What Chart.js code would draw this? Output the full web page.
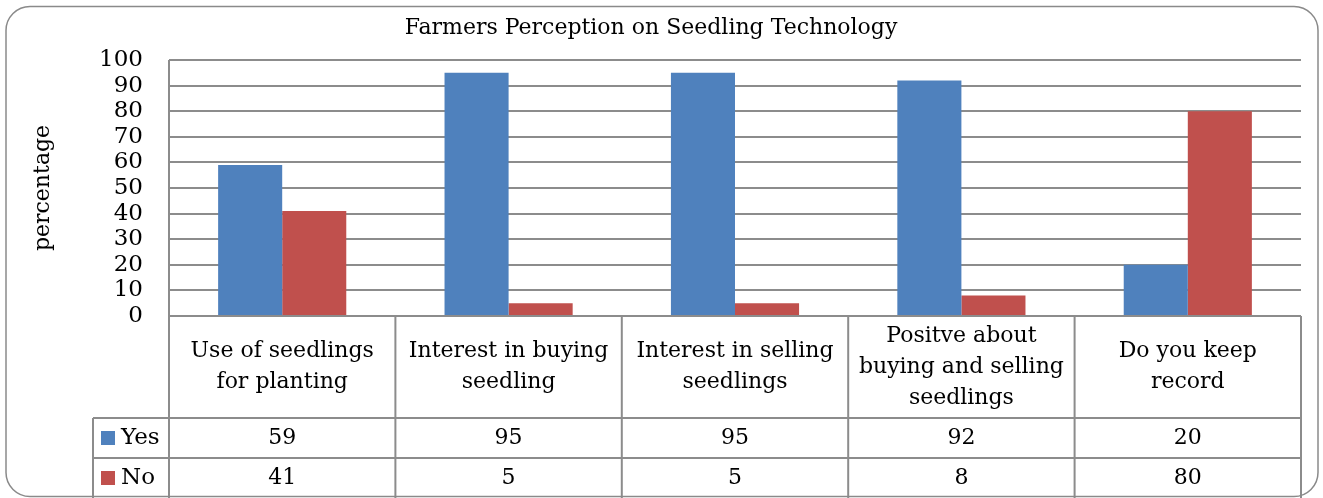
<!DOCTYPE html>
<html>
<head>
<meta charset="utf-8">
<script src="https://cdn.jsdelivr.net/npm/chart.js@4/dist/chart.umd.min.js"></script>
<style>
  html, body { margin: 0; padding: 0; background: #fff; }
  #wrap { width: 1323px; height: 498px; position: relative; }
</style>
</head>
<body>
<div id="wrap"><canvas id="myChart" width="1323" height="498"></canvas></div>
<script>
const categories = [
    ['Use of seedlings', 'for planting'],
    ['Interest in buying', 'seedling'],
    ['Interest in selling', 'seedlings'],
    ['Positve about', 'buying and selling', 'seedlings'],
    ['Do you keep', 'record']
];
const yesValues = [59, 95, 95, 92, 20];
const noValues = [41, 5, 5, 8, 80];
const yTicks = [0, 10, 20, 30, 40, 50, 60, 70, 80, 90, 100];
const chartTitle = 'Farmers Perception on Seedling Technology';
const yTitle = 'percentage';

const serif = '"DejaVu Serif", "Liberation Serif", serif';
const lineColor = '#8c8c8c';
const blue = '#4f81bd';
const red = '#c0504d';

// draws the frame, the data table and the title
const tablePlugin = {
    id: 'tablePlugin',
    afterDraw(chart) {
        const c = chart.ctx;
        const area = chart.chartArea;
        const x = chart.scales.x;
        const row1 = 418, row2 = 458, bottom = 498;
        const legLeft = 93;
        const colW = (area.right - area.left) / categories.length;

        c.save();
        c.strokeStyle = lineColor;
        c.lineWidth = 2;
        c.beginPath();
        // axis line and table lines
        c.moveTo(area.left, area.bottom); c.lineTo(area.right, area.bottom);
        c.moveTo(legLeft, row1); c.lineTo(area.right, row1);
        c.moveTo(legLeft, row2); c.lineTo(area.right, row2);
        c.moveTo(area.left, area.top); c.lineTo(area.left, bottom);
        c.moveTo(legLeft, row1); c.lineTo(legLeft, bottom);
        for (let i = 1; i <= categories.length; i++) {
            const lx = area.left + colW * i;
            c.moveTo(lx, area.bottom); c.lineTo(lx, bottom);
        }
        c.stroke();

        // outer rounded frame
        c.lineWidth = 1.5;
        c.strokeStyle = '#8a8a8a';
        c.beginPath();
        c.roundRect(6, 6.5, 1312, 490, 24);
        c.stroke();

        c.fillStyle = '#000';
        c.textAlign = 'center';
        c.textBaseline = 'middle';
        c.font = '22px ' + serif;
        c.fillText(chartTitle, 651, 28);

        c.font = '22px ' + serif;
        const lh = 31;
        categories.forEach((lines, i) => {
            const cx = x.getPixelForValue(i);
            const cy = (area.bottom + row1) / 2;
            lines.forEach((t, j) => {
                c.fillText(t, cx, cy + (j - (lines.length - 1) / 2) * lh);
            });
            c.fillText(String(yesValues[i]), cx, (row1 + row2) / 2);
            c.fillText(String(noValues[i]), cx, (row2 + bottom) / 2);
        });

        // legend keys
        c.textAlign = 'left';
        c.fillStyle = blue;
        c.fillRect(101, 431, 14, 14);
        c.fillStyle = red;
        c.fillRect(101, 471, 14, 14);
        c.fillStyle = '#000';
        c.font = '23px ' + serif;
        c.fillText('Yes', 121, (row1 + row2) / 2);
        c.fillText('No', 121, (row2 + bottom) / 2);
        c.restore();
    }
};

new Chart(document.getElementById('myChart'), {
    type: 'bar',
    data: {
        labels: categories.map(l => l.join(' ')),
        datasets: [
            { label: 'Yes', data: yesValues, backgroundColor: blue },
            { label: 'No', data: noValues, backgroundColor: red }
        ]
    },
    options: {
        responsive: false,
        animation: false,
        layout: { padding: { left: 0, top: 60, right: 22, bottom: 0 } },
        datasets: { bar: { categoryPercentage: 0.566, barPercentage: 1 } },
        plugins: { legend: { display: false }, tooltip: { enabled: false } },
        scales: {
            x: {
                ticks: { display: false },
                grid: { display: false },
                border: { display: false },
                afterFit: s => { s.height = 182; }
            },
            y: {
                min: 0,
                max: 100,
                afterFit: s => { s.width = 169; },
                afterBuildTicks: s => { s.ticks = yTicks.map(v => ({ value: v })); },
                ticks: {
                    color: '#000',
                    font: { family: serif, size: 23 },
                    padding: 26,
                    autoSkip: false
                },
                grid: { color: lineColor, lineWidth: 2, drawTicks: false },
                border: { display: false },
                title: {
                    display: true,
                    text: yTitle,
                    color: '#000',
                    font: { family: serif, size: 22 },
                    padding: { top: 30, bottom: 0 }
                }
            }
        }
    },
    plugins: [tablePlugin]
});
</script>
</body>
</html>
